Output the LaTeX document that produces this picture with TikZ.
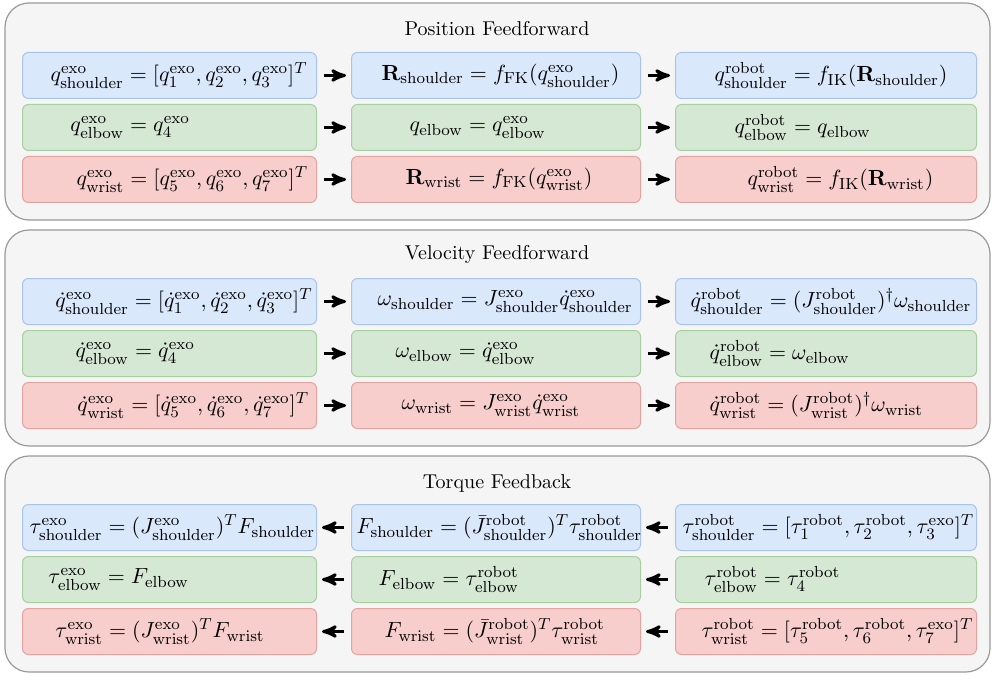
\documentclass[tikz,border=0pt]{standalone}
\usepackage{amsmath,amssymb}
\usepackage{tikz}
\usetikzlibrary{arrows,positioning}

\definecolor{bluefill}{HTML}{DAE8FC}
\definecolor{blueline}{HTML}{A9C4EB}
\definecolor{greenfill}{HTML}{D5E8D4}
\definecolor{greenline}{HTML}{A7CFA0}
\definecolor{redfill}{HTML}{F8CECC}
\definecolor{redline}{HTML}{E3A3A1}
\definecolor{panelfill}{HTML}{F5F5F5}
\definecolor{panelline}{HTML}{9A9A9A}

\newcommand{\exo}{\mathrm{exo}}
\newcommand{\rob}{\mathrm{robot}}
\newcommand{\shd}{\mathrm{shoulder}}
\newcommand{\elb}{\mathrm{elbow}}
\newcommand{\wri}{\mathrm{wrist}}

\begin{document}
\begin{tikzpicture}[x=0.5pt,y=-0.5pt,
  panel/.style={draw=panelline,fill=panelfill,line width=0.6pt,rounded corners=12pt},
  title/.style={font=\fontsize{10}{12}\selectfont},
  box/.style={draw,rounded corners=3pt,line width=0.5pt,inner xsep=0pt,inner ysep=0pt,
    align=left,minimum height=23pt,font=\fontsize{10.8}{13}\selectfont},
  c1/.style={box,text width=147pt},
  c2/.style={box,text width=144.5pt},
  c3/.style={box,text width=150.5pt},
  sh box/.style={fill=bluefill,draw=blueline},
  el box/.style={fill=greenfill,draw=greenline},
  wr box/.style={fill=redfill,draw=redline},
  flow/.style={->,>=stealth',line width=1.5pt,shorten <=3.5pt,shorten >=2.5pt}]

  \useasboundingbox (0,0) rectangle (1000,684);

  % panels
  \draw[panel] (5,3) rectangle (990,220);
  \draw[panel] (5,230) rectangle (990,446);
  \draw[panel] (5,456) rectangle (990,672);

  % Position Feedforward
  \node[title] (ptitle) at (497,29) {Position Feedforward};
  \node[c1,sh box,anchor=north west] (p11) at (22,52) {\hspace*{14pt}\mbox{$q^{\exo}_{\shd} = [q^{\exo}_1, q^{\exo}_2, q^{\exo}_3]^T$}};
  \node[c2,sh box] (p12) [right=17pt of p11] {\hspace*{15pt}\mbox{$\mathbf{R}_{\shd} = f_{\mathrm{FK}}(q^{\exo}_{\shd})$}};
  \node[c3,sh box] (p13) [right=17pt of p12] {\hspace*{19.5pt}\mbox{$q^{\rob}_{\shd} = f_{\mathrm{IK}}(\mathbf{R}_{\shd})$}};
  \node[c1,el box] (p21) [below=2.5pt of p11] {\hspace*{24pt}\mbox{$q^{\exo}_{\elb} = q^{\exo}_4$}};
  \node[c2,el box] (p22) [below=2.5pt of p12] {\hspace*{29pt}\mbox{$q_{\elb} = q^{\exo}_{\elb}$}};
  \node[c3,el box] (p23) [below=2.5pt of p13] {\hspace*{29.5pt}\mbox{$q^{\rob}_{\elb} = q_{\elb}$}};
  \node[c1,wr box] (p31) [below=2.5pt of p21] {\hspace*{27pt}\mbox{$q^{\exo}_{\wri} = [q^{\exo}_5, q^{\exo}_6, q^{\exo}_7]^T$}};
  \node[c2,wr box] (p32) [below=2.5pt of p22] {\hspace*{27pt}\mbox{$\mathbf{R}_{\wri} = f_{\mathrm{FK}}(q^{\exo}_{\wri})$}};
  \node[c3,wr box] (p33) [below=2.5pt of p23] {\hspace*{36pt}\mbox{$q^{\rob}_{\wri} = f_{\mathrm{IK}}(\mathbf{R}_{\wri})$}};
  \draw[flow] (p11) -- (p12);
  \draw[flow] (p12) -- (p13);
  \draw[flow] (p21) -- (p22);
  \draw[flow] (p22) -- (p23);
  \draw[flow] (p31) -- (p32);
  \draw[flow] (p32) -- (p33);

  % Velocity Feedforward
  \node[title] (vtitle) at (497,254) {Velocity Feedforward};
  \node[c1,sh box,anchor=north west] (v11) at (22,278) {\hspace*{16.5pt}\mbox{$\dot{q}^{\exo}_{\shd} = [\dot{q}^{\exo}_1, \dot{q}^{\exo}_2, \dot{q}^{\exo}_3]^T$}};
  \node[c2,sh box] (v12) [right=17pt of v11] {\hspace*{13pt}\mbox{$\omega_{\shd} = J^{\exo}_{\shd}\dot{q}^{\exo}_{\shd}$}};
  \node[c3,sh box] (v13) [right=17pt of v12] {\hspace*{7.5pt}\mbox{$\dot{q}^{\rob}_{\shd} = (J^{\rob}_{\shd})^{\dagger}\omega_{\shd}$}};
  \node[c1,el box] (v21) [below=2.5pt of v11] {\hspace*{26.5pt}\mbox{$\dot{q}^{\exo}_{\elb} = \dot{q}^{\exo}_4$}};
  \node[c2,el box] (v22) [below=2.5pt of v12] {\hspace*{22pt}\mbox{$\omega_{\elb} = \dot{q}^{\exo}_{\elb}$}};
  \node[c3,el box] (v23) [below=2.5pt of v13] {\hspace*{17pt}\mbox{$\dot{q}^{\rob}_{\elb} = \omega_{\elb}$}};
  \node[c1,wr box] (v31) [below=2.5pt of v21] {\hspace*{27.5pt}\mbox{$\dot{q}^{\exo}_{\wri} = [\dot{q}^{\exo}_5, \dot{q}^{\exo}_6, \dot{q}^{\exo}_7]^T$}};
  \node[c2,wr box] (v32) [below=2.5pt of v22] {\hspace*{25pt}\mbox{$\omega_{\wri} = J^{\exo}_{\wri}\dot{q}^{\exo}_{\wri}$}};
  \node[c3,wr box] (v33) [below=2.5pt of v23] {\hspace*{17pt}\mbox{$\dot{q}^{\rob}_{\wri} = (J^{\rob}_{\wri})^{\dagger}\omega_{\wri}$}};
  \draw[flow] (v11) -- (v12);
  \draw[flow] (v12) -- (v13);
  \draw[flow] (v21) -- (v22);
  \draw[flow] (v22) -- (v23);
  \draw[flow] (v31) -- (v32);
  \draw[flow] (v32) -- (v33);

  % Torque Feedback
  \node[title] (ttitle) at (497,483) {Torque Feedback};
  \node[c1,sh box,anchor=north west] (t11) at (22,504) {\hspace*{3.5pt}\mbox{$\tau^{\exo}_{\shd} = (J^{\exo}_{\shd})^T F_{\shd}$}};
  \node[c2,sh box] (t12) [right=17pt of t11] {\hspace*{2.5pt}\mbox{$F_{\shd} = (\bar{J}^{\rob}_{\shd})^T \tau^{\rob}_{\shd}$}};
  \node[c3,sh box] (t13) [right=17pt of t12] {\hspace*{3.5pt}\mbox{$\tau^{\rob}_{\shd} = [\tau^{\rob}_1, \tau^{\rob}_2, \tau^{\exo}_3]^T$}};
  \node[c1,el box] (t21) [below=2.5pt of t11] {\hspace*{13pt}\mbox{$\tau^{\exo}_{\elb} = F_{\elb}$}};
  \node[c2,el box] (t22) [below=2.5pt of t12] {\hspace*{13.5pt}\mbox{$F_{\elb} = \tau^{\rob}_{\elb}$}};
  \node[c3,el box] (t23) [below=2.5pt of t13] {\hspace*{14.5pt}\mbox{$\tau^{\rob}_{\elb} = \tau^{\rob}_4$}};
  \node[c1,wr box] (t31) [below=2.5pt of t21] {\hspace*{16.5pt}\mbox{$\tau^{\exo}_{\wri} = (J^{\exo}_{\wri})^T F_{\wri}$}};
  \node[c2,wr box] (t32) [below=2.5pt of t22] {\hspace*{16.5pt}\mbox{$F_{\wri} = (\bar{J}^{\rob}_{\wri})^T \tau^{\rob}_{\wri}$}};
  \node[c3,wr box] (t33) [below=2.5pt of t23] {\hspace*{13pt}\mbox{$\tau^{\rob}_{\wri} = [\tau^{\rob}_5, \tau^{\rob}_6, \tau^{\exo}_7]^T$}};
  \draw[flow] (t12) -- (t11);
  \draw[flow] (t13) -- (t12);
  \draw[flow] (t22) -- (t21);
  \draw[flow] (t23) -- (t22);
  \draw[flow] (t32) -- (t31);
  \draw[flow] (t33) -- (t32);

\end{tikzpicture}
\end{document}
